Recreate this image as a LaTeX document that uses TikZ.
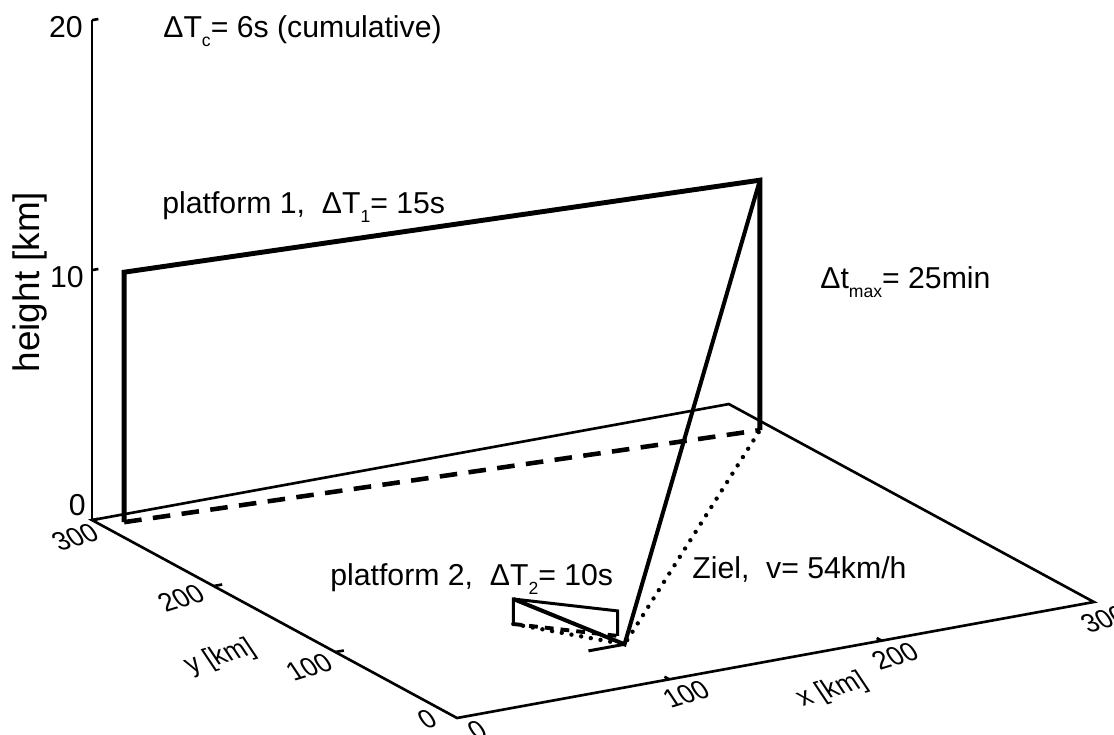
\documentclass[tikz,border=0pt]{standalone}
\usepackage{fontspec}
\setmainfont{Liberation Sans}
\newcommand{\lowsub}[1]{\raisebox{-0.6ex}{\fontsize{10}{10}\selectfont #1}}

\begin{document}
\begin{tikzpicture}[
    x=0.02cm,y=-0.02cm,
    txt/.style={font=\fontsize{17.2}{20}\selectfont,inner sep=0pt,anchor=base west},
    ticklabel/.style={font=\fontsize{18}{21}\selectfont,inner sep=0pt,cm={0.78,0.24,-0.5,0.75,(0,0)}},
    floorline/.style={line width=1.5pt},
    pathline/.style={line width=2.8pt},
    smallpath/.style={line width=1.7pt},
    sightline/.style={line width=2.3pt},
    groundtrack/.style={line width=2.6pt,dash pattern=on 10pt off 6.5pt},
    shorttrack/.style={line width=2.2pt,dash pattern=on 5pt off 4pt},
    projline/.style={line width=2.5pt,line cap=round,dash pattern=on 0pt off 5.6pt}
  ]
  \useasboundingbox (0,0) rectangle (1114,734);
  \begin{scope}[shift={(457,718)},x={(0.042467cm,0.007733cm)},y={(-0.024333cm,0.0132cm)},z={(0cm,0.5cm)}]
    \coordinate (front) at (0,0,0);
    \coordinate (back) at (0,300,0);
    \coordinate (right) at (300,0,0);
    \coordinate (backright) at (300,300,0);
    \coordinate (ztop) at (0,300,20);
    % platform 1
    \coordinate (p1s0) at (10,291,0);
    \coordinate (p1s) at (10,291,10);
    \coordinate (p1e0) at (294,264,0);
    \coordinate (p1e) at (294,264,10);
    % platform 2
    \coordinate (p2s0) at (81,95,0);
    \coordinate (p2s) at (81,95,1);
    \coordinate (p2e0) at (110,60,0);
    \coordinate (p2e) at (110,60,1);
    % target
    \coordinate (ziel0) at (90,49,0);
    \coordinate (ziel1) at (107,49,0);

    \draw[floorline] (back) -- (front) -- (right) -- (backright) -- cycle;
    \draw[floorline] (back) -- (ztop);
    \foreach \h in {0,10,20}
      \draw[floorline] (0,300,\h) -- ++(3,0,0);
    \foreach \v in {100,200} {
      \draw[floorline] (\v,0,0) -- ++(0,4,0);
      \draw[floorline] (0,\v,0) -- ++(4,0,0);
    }

    \draw[groundtrack] (p1s0) -- (p1e0);
    \draw[pathline] (p1s0) -- (p1s) -- (p1e) -- (p1e0);
    \draw[shorttrack] (p2s0) -- (p2e0);
    \draw[smallpath] (p2s0) -- (p2s) -- (p2e) -- (p2e0);
    \draw[projline] (p2s0) -- (ziel1) -- (p1e0);
    \draw[sightline] (p2s) -- (ziel1) -- (p1e);
    \draw[smallpath] (ziel0) -- (ziel1);
  \end{scope}

  \node[font=\fontsize{21}{25}\selectfont,rotate=90] (zlabel) at (30,282) {height [km]};
  \node[txt,anchor=east] (z20) at (83,27) {20};
  \node[txt,anchor=east] (z10) at (84,277) {10};
  \node[txt,anchor=east] (z0) at (86,505) {0};

  \node[ticklabel] (y300) at (75,537) {300};
  \node[ticklabel] (y200) at (181,598) {200};
  \node[ticklabel] (y100) at (309,667) {100};
  \node[ticklabel] (y0) at (427,719) {0};
  \node[ticklabel] (ylabel) at (220,657) {y [km]};
  \node[ticklabel] (x0) at (477,730) {0};
  \node[ticklabel] (x100) at (686,694) {100};
  \node[ticklabel] (x200) at (895,656) {200};
  \node[ticklabel] (x300) at (1104,619) {300};
  \node[ticklabel] (xlabel) at (832,690) {x [km]};

  \node[txt] (cumul) at (163,37) {ΔT\lowsub{c}= 6s (cumulative)};
  \node[txt] (plat1) at (162,213) {platform 1,\ \ ΔT\lowsub{1}= 15s};
  \node[txt] (tmax) at (820,288) {Δt\lowsub{max}= 25min};
  \node[txt] (plat2) at (330,585) {platform 2,\ \ ΔT\lowsub{2}= 10s};
  \node[txt] (ziel) at (692,578) {Ziel,\ \ v= 54km/h};
\end{tikzpicture}
\end{document}
